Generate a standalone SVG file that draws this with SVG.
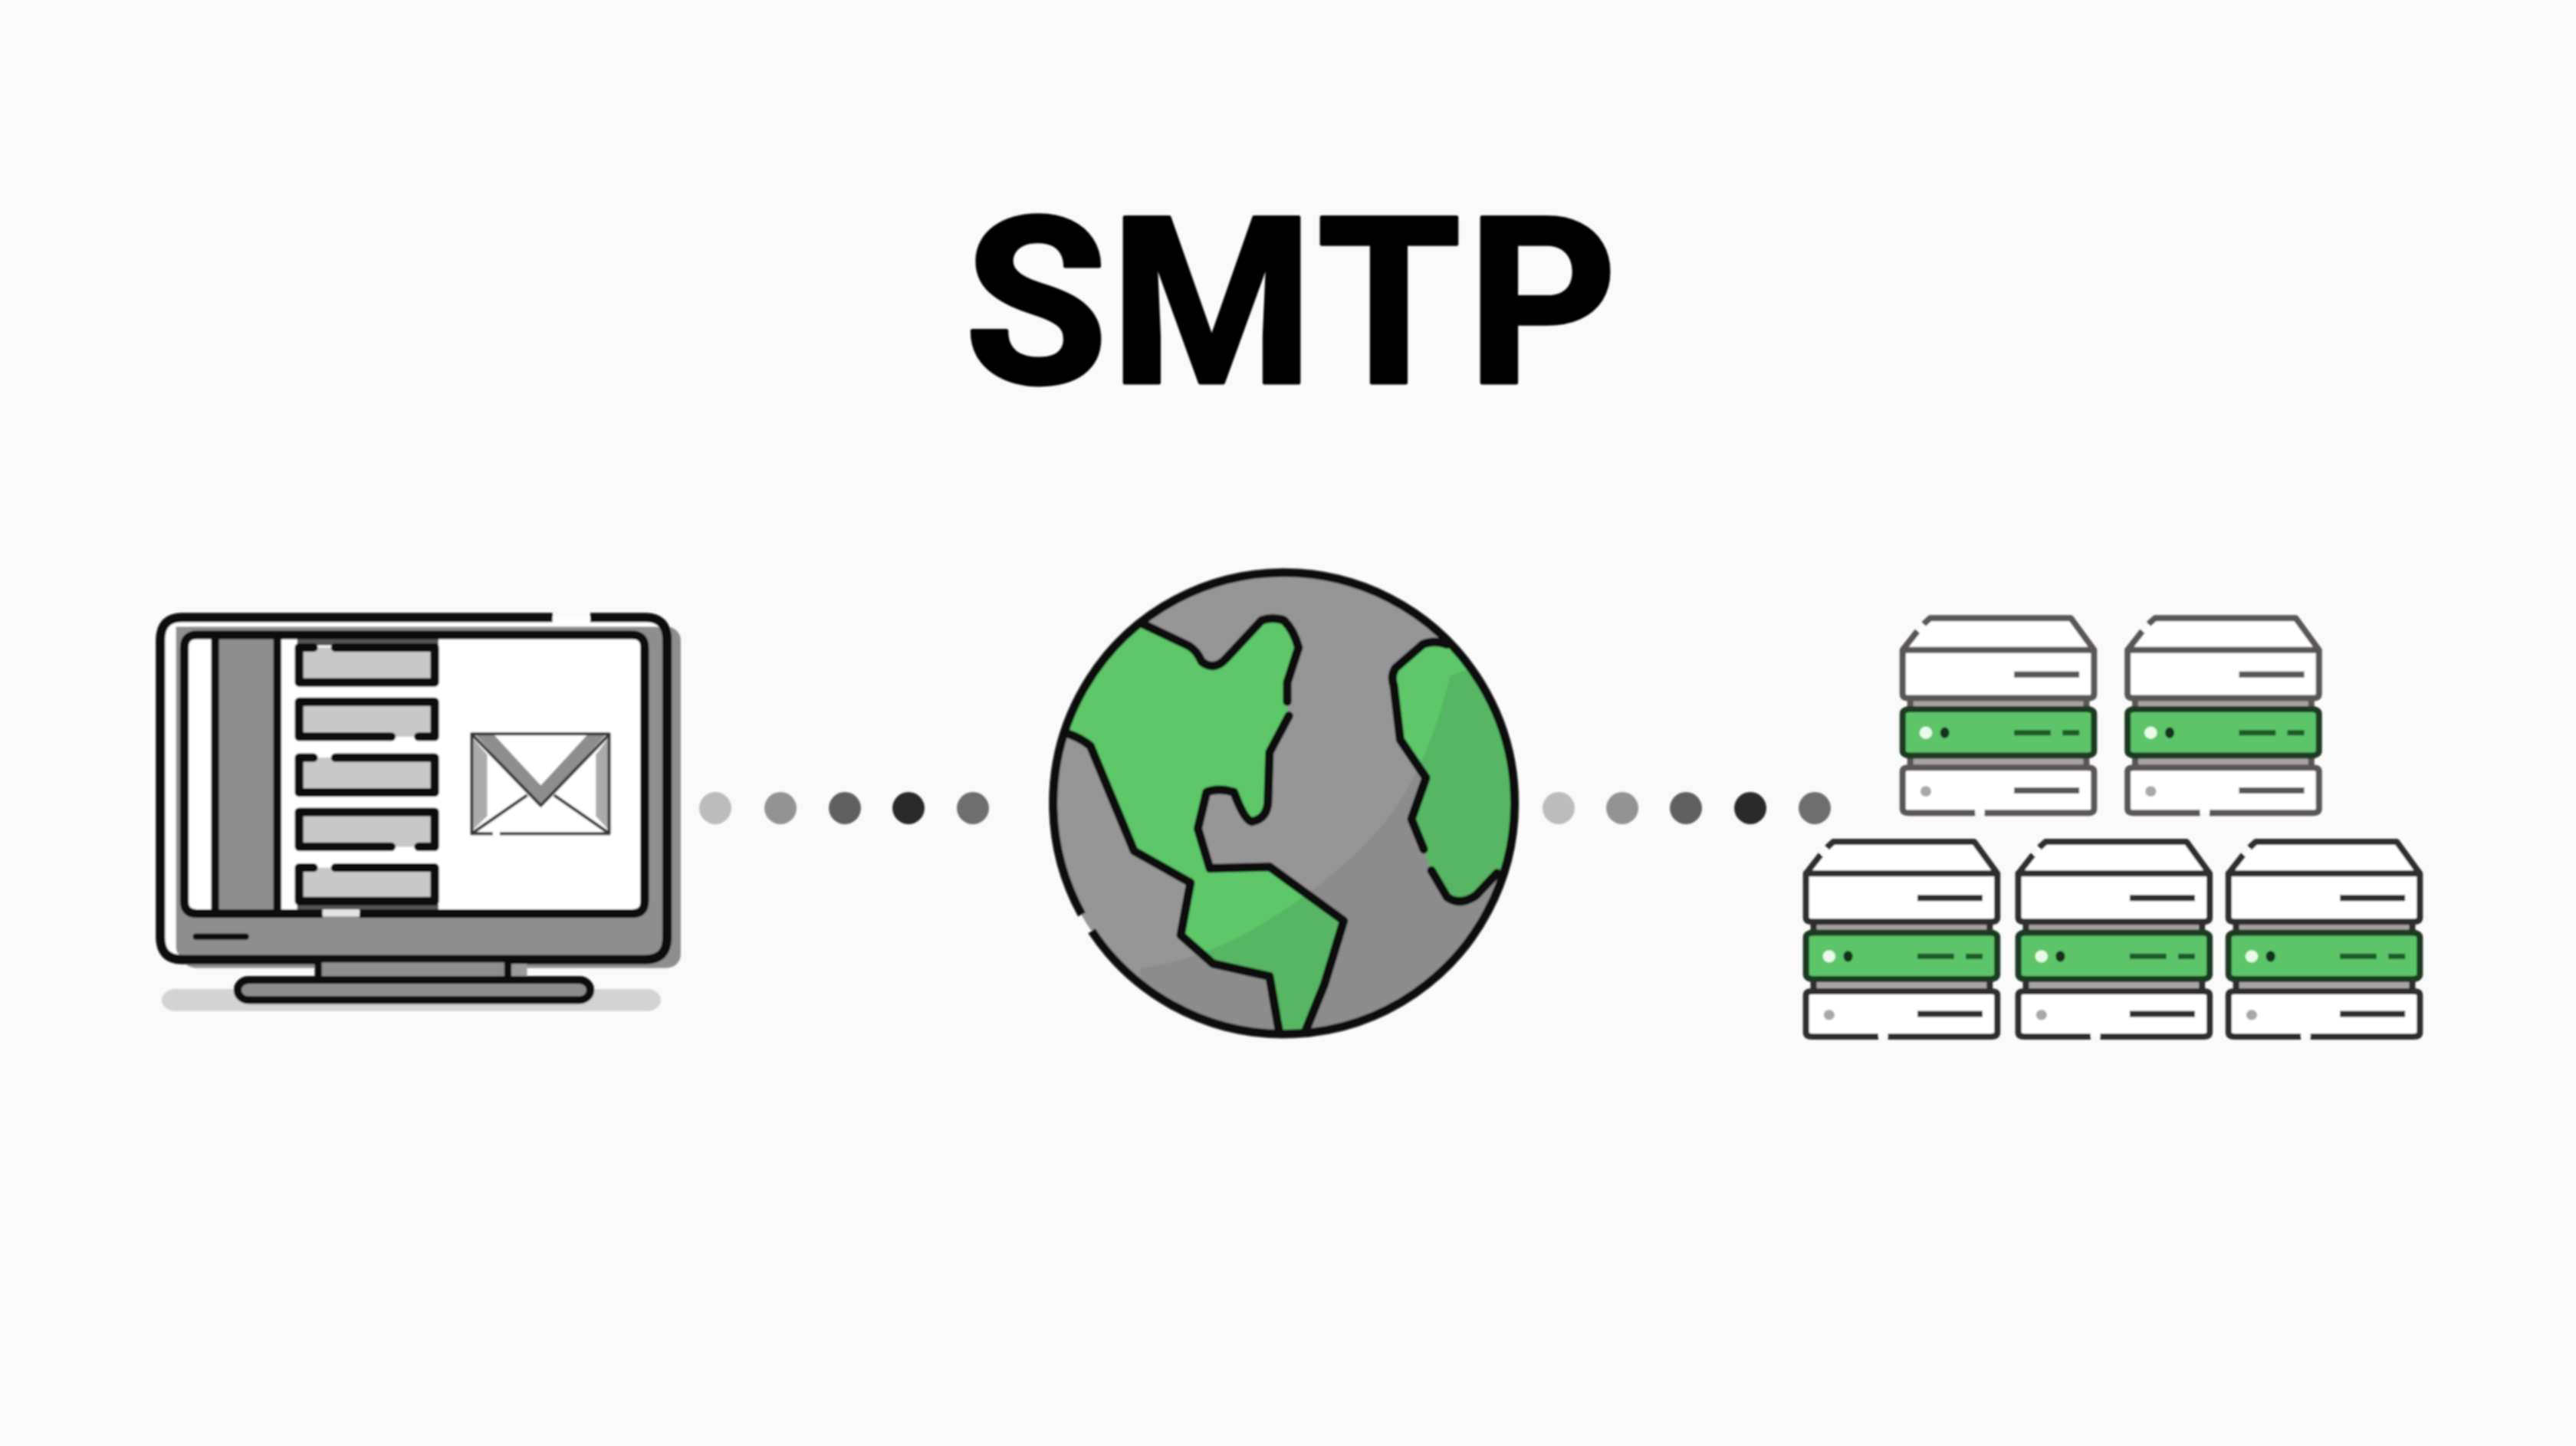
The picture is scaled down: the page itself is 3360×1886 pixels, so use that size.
<svg xmlns="http://www.w3.org/2000/svg" xmlns:xlink="http://www.w3.org/1999/xlink" width="3360" height="1886" viewBox="0 0 3360 1886">
<style>
svg * { vector-effect: non-scaling-stroke; }
.k { fill: none; stroke: #0a0a0a; stroke-linecap: round; stroke-linejoin: round; }
.gr { fill: #8e8e8e; }
.title { font-family: Roboto, "Liberation Sans", sans-serif; font-weight: 700; font-size: 303px; fill: #030303; stroke: #030303; stroke-width: 5; stroke-linejoin: round; }
.s { fill: none; stroke: currentColor; stroke-width: 8; stroke-linejoin: round; stroke-linecap: butt; }
.sw { fill: #fff; }
.sb { fill: #a8a2a2; }
.sg { fill: #5cc469; stroke: #1c3a22; stroke-width: 8; }
.sl { stroke: #1f5a28; stroke-width: 7; fill: none; }
.d1 { fill: #bcbcbc; } .d2 { fill: #939393; } .d3 { fill: #606060; } .d4 { fill: #2b2b2b; } .d5 { fill: #6e6e6e; }
</style>
<defs>
<filter id="soft" x="-2%" y="-2%" width="104%" height="104%"><feGaussianBlur stdDeviation="1.2"/></filter>
<g id="srv">
  <polygon class="sw" points="65,0 400,0 455,110 455,275 0,275 0,110"/>
  <rect class="sb" x="18" y="278" width="420" height="38"/>
  <rect class="sb" x="18" y="478" width="420" height="40"/>
  <rect class="sw" x="0" y="518" width="455" height="157" rx="12" ry="12"/>
  <path class="s" d="M0,110 L35,45 M50,20 L65,0 L400,0 L455,110 V262 Q455,277 440,277 H15 Q0,277 0,262 V110 H455"/>
  <path class="s" d="M18,277 V316 M437,277 V316 M18,476 V518 M437,476 V518"/>
  <rect class="sg" x="0" y="315" width="455" height="161" rx="16" ry="16"/>
  <path class="s" d="M172,675 H15 Q0,675 0,660 V532 Q0,518 15,518 H440 Q455,518 455,532 V660 Q455,675 440,675 H195"/>
  <line class="s" x1="265" y1="195" x2="420" y2="195"/>
  <line class="s" x1="265" y1="597" x2="420" y2="597"/>
  <line class="sl" x1="265" y1="397" x2="352" y2="397"/>
  <line class="sl" x1="380" y1="397" x2="420" y2="397"/>
  <ellipse cx="55" cy="397" rx="15" ry="21" fill="#e8fbe9"/>
  <ellipse cx="100" cy="397" rx="11" ry="19" fill="#12331a"/>
  <ellipse cx="55" cy="600" rx="13" ry="18" fill="#a8a8a8"/>
</g>
<path id="c1" d="M355,230 L510,305 Q535,320 550,355 Q590,385 625,345 L735,225 Q770,212 805,225 Q835,255 850,310 L815,420 L818,530 L760,640 L755,800 Q750,850 705,858 Q680,850 650,765 Q600,750 565,765 L538,880 L575,1005 L760,1000 L990,1170 L930,1370 L870,1520 L790,1520 L760,1345 L585,1305 L485,1215 L515,1050 L340,950 L205,620 Q170,590 115,575 L60,500 L300,180 Z"/>
<path id="c2" d="M1310,300 Q1270,285 1235,300 L1150,375 Q1135,400 1145,430 L1165,600 L1245,720 L1200,850 L1240,950 L1260,1010 L1310,1095 Q1350,1125 1400,1090 L1465,1020 L1560,1000 L1560,300 Z"/>
<path id="shade" d="M1320,400 C1290,520 1260,620 1190,750 C1120,880 1000,1000 830,1120 C700,1210 560,1290 360,1320 L360,1600 L1600,1600 L1600,300 Z"/>
<clipPath id="globeClip"><ellipse cx="797" cy="790" rx="715" ry="726"/></clipPath>
<clipPath id="c1Clip" clip-path="url(#globeClip)"><use href="#c1"/></clipPath>
<clipPath id="c2Clip" clip-path="url(#globeClip)"><use href="#c2"/></clipPath>
</defs>

<rect width="3360" height="1886" fill="#fafafa"/>

<g filter="url(#soft)">
<g id="title"><text class="title" x="1258 1448 1718 1914" y="499">SMTP</text></g>

<g id="monitor" transform="translate(180,770) scale(0.472,0.3635)">
  <rect x="65" y="1430" width="1380" height="80" rx="40" ry="40" fill="#d3d3d3"/>
  <rect x="120" y="130" width="1380" height="1225" rx="40" ry="50" class="gr"/>
  <rect x="62" y="97" width="1400" height="1228" rx="60" ry="80" fill="#fff"/>
  <path class="gr" d="M105,130 H1430 Q1450,130 1450,160 V1260 Q1450,1312 1400,1312 H130 Q105,1312 105,1280 Z"/>
  <path class="k" stroke-width="12" style="stroke-linecap:butt" d="M1145,97 H122 Q62,97 62,177 V1245 Q62,1325 122,1325 H1402 Q1462,1325 1462,1245 V177 Q1462,97 1402,97 H1250"/>
  <rect x="128" y="160" width="1272" height="1000" rx="35" ry="45" fill="#fff"/>
  <rect x="213" y="170" width="172" height="980" class="gr"/>
  <rect x="440" y="172" width="390" height="25" fill="#555"/>
  <rect x="440" y="1125" width="390" height="20" fill="#555"/>
  <path class="k" stroke-width="11" style="stroke-linecap:butt" d="M510,1160 H163 Q128,1160 128,1115 V205 Q128,160 163,160 H1365 Q1400,160 1400,205 V1115 Q1400,1160 1365,1160 H612"/>
  <line x1="510" y1="1158" x2="612" y2="1158" stroke="#e4e4e4" stroke-width="9"/>
  <path class="k" stroke-width="10" d="M213,165 V1155 M385,165 V1155"/>
  <g fill="#c8c8c8">
    <rect x="445" y="205" width="375" height="125"/>
    <rect x="445" y="400" width="375" height="125"/>
    <rect x="445" y="600" width="375" height="125"/>
    <rect x="445" y="795" width="375" height="125"/>
    <rect x="445" y="995" width="375" height="120"/>
  </g>
  <g class="k" stroke-width="11">
    <path d="M485,205 H445 V330 H820 V205 H545"/>
    <path d="M700,525 H445 V400 H820 V525 H775"/>
    <path d="M485,600 H445 V725 H820 V600 H545"/>
    <path d="M700,920 H445 V795 H820 V920 H775"/>
    <path d="M485,995 H445 V1115 H820 V995 H545"/>
  </g>
  <rect x="922" y="515" width="380" height="360" fill="#fff"/>
  <polygon points="925,530 965,590 965,810 925,860" fill="#ababab"/>
  <polygon points="1300,530 1265,590 1265,810 1300,860" fill="#ababab"/>
  <polygon points="930,515 985,520 1113,700 1240,520 1295,515 1113,775" class="gr"/>
  <g fill="none" stroke="#3a3a3a" stroke-width="4" stroke-linejoin="round">
    <path d="M980,873 H922 V515 H1302 V873 H1000"/>
    <path d="M925,520 L1113,772 L1300,520"/>
    <path d="M925,870 L1075,735 M1300,870 L1150,735"/>
  </g>
  <line class="k" stroke-width="8" x1="160" y1="1242" x2="298" y2="1242"/>
  <rect x="498" y="1335" width="524" height="65" class="gr"/>
  <rect x="1030" y="1340" width="45" height="50" fill="#9a9a9a"/>
  <path class="k" stroke-width="9" d="M498,1330 V1395 M1022,1330 V1395"/>
  <rect x="275" y="1398" width="975" height="72" rx="30" ry="36" fill="#8e8e8e" stroke="#0a0a0a" stroke-width="10"/>
</g>

<g id="connectors">
  <circle class="d1" cx="933" cy="1054" r="21"/>
  <circle class="d2" cx="1018" cy="1054" r="21"/>
  <circle class="d3" cx="1102" cy="1054" r="21"/>
  <circle class="d4" cx="1185" cy="1054" r="21"/>
  <circle class="d5" cx="1269" cy="1054" r="21"/>
  <circle class="d1" cx="2033" cy="1054" r="21"/>
  <circle class="d2" cx="2116" cy="1054" r="21"/>
  <circle class="d3" cx="2199" cy="1054" r="21"/>
  <circle class="d4" cx="2283" cy="1054" r="21"/>
  <circle class="d5" cx="2367" cy="1054" r="21"/>
</g>

<g id="globe" transform="translate(1336,716) scale(0.4209,0.4145)">
  <ellipse cx="797" cy="790" rx="715" ry="726" fill="#969696"/>
  <use href="#shade" fill="#8c8c8c" clip-path="url(#globeClip)"/>
  <g clip-path="url(#globeClip)">
    <use href="#c1" fill="#5dc76a"/>
    <use href="#c2" fill="#5dc76a"/>
  </g>
  <use href="#shade" fill="#56b663" clip-path="url(#c1Clip)"/>
  <use href="#shade" fill="#56b663" clip-path="url(#c2Clip)"/>
  <g class="k" stroke-width="11" clip-path="url(#globeClip)">
    <path d="M355,230 L510,305 Q535,320 550,355 Q590,385 625,345 L735,225 Q770,212 805,225 Q835,255 850,310 L815,420 L815,480"/>
    <path d="M820,525 L760,640 L755,800 Q750,850 705,858 Q680,850 650,765 Q600,750 565,765 L538,880 L575,1005 L760,1000 L990,1170 L930,1370 L870,1520 M790,1520 L760,1345 L585,1305 L485,1215 L515,1050 L340,950 L205,620 Q170,590 115,575"/>
    <path d="M1310,300 Q1270,285 1235,300 L1150,375 Q1135,400 1145,430 L1165,600 L1245,720 L1200,850 L1238,945"/>
    <path d="M1262,1012 L1310,1095 Q1350,1125 1400,1090 L1465,1020"/>
  </g>
  <path class="k" stroke-width="11" style="stroke-linecap:butt" d="M178,1150 A715,726 0 1 1 209,1202"/>
</g>

<g id="server-1" color="#5a5656" transform="translate(2320,780) scale(0.5484,0.3763)"><use href="#srv" x="295" y="70"/></g>
<g id="server-2" color="#5a5656" transform="translate(2320,780) scale(0.5484,0.3763)"><use href="#srv" x="830" y="70"/></g>
<g id="server-3" color="#2e2e2e" transform="translate(2320,780) scale(0.5484,0.3763)"><use href="#srv" x="65" y="845"/></g>
<g id="server-4" color="#2e2e2e" transform="translate(2320,780) scale(0.5484,0.3763)"><use href="#srv" x="570" y="845"/></g>
<g id="server-5" color="#2e2e2e" transform="translate(2320,780) scale(0.5484,0.3763)"><use href="#srv" x="1070" y="845"/></g>
</g>
</svg>
